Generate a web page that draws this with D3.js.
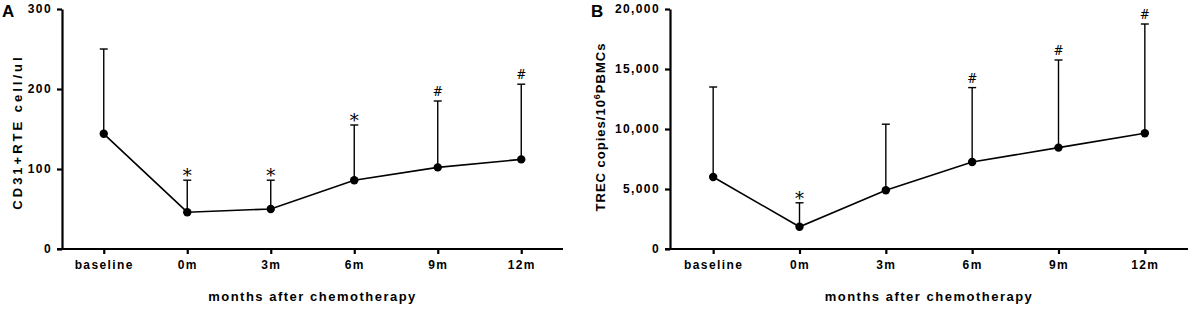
<!DOCTYPE html>
<html>
<head>
<meta charset="utf-8">
<script src="https://cdn.jsdelivr.net/npm/d3@7"></script>
<style>
    body { margin: 0; background: #fff; }
    svg { display: block; font-family: "Liberation Sans", Arial, sans-serif; }
</style>
</head>
<body>
<div id="chart"></div>
<script>
// Shared categories
const timepoints = ['baseline', '0m', '3m', '6m', '9m', '12m'];

// Panel A: CD31+ RTE cells
const rteMean = [144, 46, 50, 86, 102, 112];
const rteUpper = [250, 86, 86, 155, 185, 206];
const rteMarks = ['', '*', '*', '*', '#', '#'];
const rteTicks = [0, 100, 200, 300];

// Panel B: TREC copies
const trecMean = [6000, 1850, 4900, 7250, 8450, 9650];
const trecUpper = [13500, 3850, 10400, 13450, 15750, 18750];
const trecMarks = ['', '*', '', '#', '#', '#'];
const trecTicks = [0, 5000, 10000, 15000, 20000];

const W = 1192, H = 309;

const svg = d3.select('#chart').append('svg')
    .attr('width', W)
    .attr('height', H);

function drawPanel(opts) {
    const x = d3.scalePoint()
        .domain(timepoints)
        .range([opts.left, opts.right])
        .padding(0.5);

    const y = d3.scaleLinear()
        .domain([0, opts.max])
        .range([249, 9]);

    const g = svg.append('g');

    // Axes
    const gx = g.append('g')
        .attr('transform', 'translate(0,249)')
        .call(d3.axisBottom(x).tickSize(5).tickPadding(6).tickSizeOuter(0));

    const gy = g.append('g')
        .attr('transform', `translate(${opts.left},0)`)
        .call(d3.axisLeft(y).tickValues(opts.ticks).tickSize(5).tickPadding(5)
            .tickSizeOuter(0).tickFormat(opts.fmt));

    g.selectAll('.domain, .tick line')
        .attr('stroke', '#000')
        .attr('stroke-width', 2.2);

    g.selectAll('.tick text')
        .attr('fill', '#000')
        .style('font-size', '12px')
        .style('font-weight', 'bold')
        .style('letter-spacing', '1.4px');

    // x-axis line runs a touch left so the 0 tick joins it
    gx.select('.domain').attr('d', `M${opts.left - 5},0H${opts.right}`);

    // Mean line
    const line = d3.line()
        .x((d, i) => x(timepoints[i]))
        .y(d => y(d));

    g.append('path')
        .datum(opts.mean)
        .attr('d', line)
        .attr('fill', 'none')
        .attr('stroke', '#000')
        .attr('stroke-width', 1.6);

    // Upper error bars
    const bars = g.selectAll('.err')
        .data(opts.mean)
        .enter().append('g')
        .attr('class', 'err');

    bars.append('line')
        .attr('x1', (d, i) => x(timepoints[i]))
        .attr('x2', (d, i) => x(timepoints[i]))
        .attr('y1', d => y(d))
        .attr('y2', (d, i) => y(opts.upper[i]))
        .attr('stroke', '#000')
        .attr('stroke-width', 1.4);

    bars.append('line')
        .attr('x1', (d, i) => x(timepoints[i]) - 4)
        .attr('x2', (d, i) => x(timepoints[i]) + 4)
        .attr('y1', (d, i) => y(opts.upper[i]))
        .attr('y2', (d, i) => y(opts.upper[i]))
        .attr('stroke', '#000')
        .attr('stroke-width', 1.4);

    // Points
    g.selectAll('.dot')
        .data(opts.mean)
        .enter().append('circle')
        .attr('cx', (d, i) => x(timepoints[i]))
        .attr('cy', d => y(d))
        .attr('r', 4.2)
        .attr('fill', '#000');

    // Significance marks
    g.selectAll('.mark')
        .data(opts.marks)
        .enter().append('text')
        .attr('x', (d, i) => x(timepoints[i]))
        .attr('y', (d, i) => y(opts.upper[i]) + (d === '*' ? 2 : -5))
        .attr('text-anchor', 'middle')
        .attr('fill', '#000')
        .style('font-family', '"DejaVu Serif", serif')
        .style('font-size', d => d === '*' ? '18px' : '12px')
        .text(d => d);

    // Panel letter
    g.append('text')
        .attr('x', opts.letterX)
        .attr('y', 17)
        .style('font-size', '17px')
        .style('font-weight', 'bold')
        .text(opts.letter);

    // Axis titles
    g.append('text')
        .attr('x', (opts.left + opts.right) / 2)
        .attr('y', 301)
        .attr('text-anchor', 'middle')
        .style('font-size', '13px')
        .style('font-weight', 'bold')
        .style('letter-spacing', '1.5px')
        .text('months after chemotherapy');

    const yt = g.append('text')
        .attr('transform', `translate(${opts.titleX},${opts.titleY}) rotate(-90)`)
        .attr('text-anchor', 'middle')
        .style('font-size', '13px')
        .style('font-weight', 'bold')
        .style('letter-spacing', opts.titleSpacing);
    opts.title(yt);
}

drawPanel({
    letter: 'A', letterX: 2,
    left: 62, right: 563,
    max: 300, ticks: rteTicks, fmt: d3.format('d'),
    mean: rteMean, upper: rteUpper, marks: rteMarks,
    titleX: 22, titleY: 132, titleSpacing: '3px',
    title: t => t.text('CD31+RTE cell/ul')
});

drawPanel({
    letter: 'B', letterX: 591,
    left: 670, right: 1188,
    max: 20000, ticks: trecTicks, fmt: d3.format(','),
    mean: trecMean, upper: trecUpper, marks: trecMarks,
    titleX: 605, titleY: 127, titleSpacing: '1px',
    title: t => {
        t.append('tspan').text('TREC copies/10');
        t.append('tspan').attr('dy', -5).style('font-size', '9px').text('6');
        t.append('tspan').attr('dy', 5).text('PBMCs');
    }
});
</script>
</body>
</html>
